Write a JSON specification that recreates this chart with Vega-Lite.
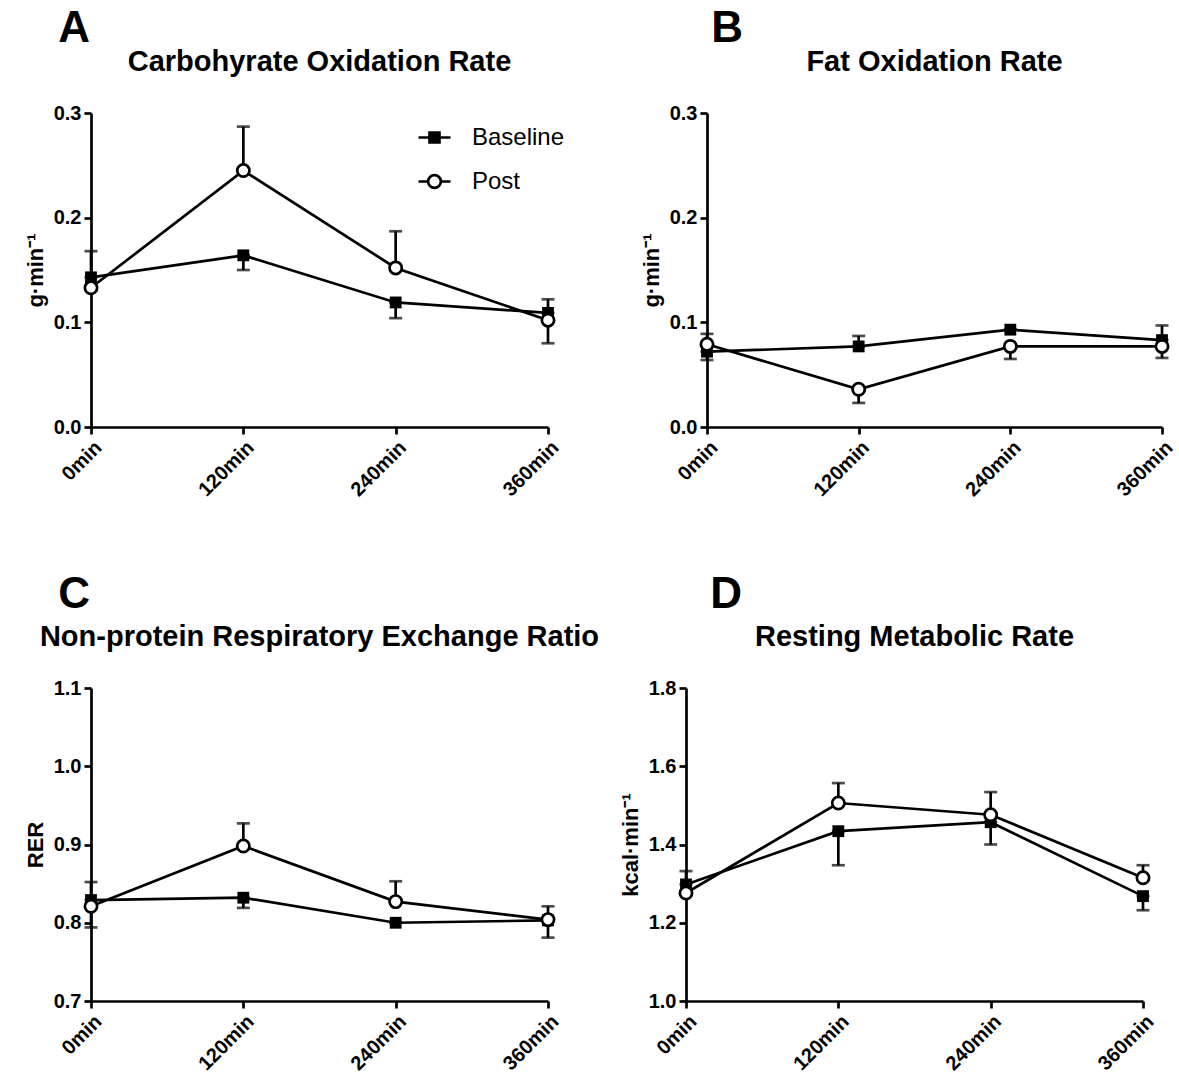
{
  "$schema": "https://vega.github.io/schema/vega-lite/v6.json",
  "background": "white",
  "padding": {"left": 24, "top": 7, "right": 5, "bottom": 5},
  "config": {
    "font": "Liberation Sans",
    "view": {"stroke": null},
    "title": {"font": "Liberation Sans", "fontWeight": "bold", "color": "black"},
    "axis": {"domainColor": "black", "domainWidth": 2.7, "tickColor": "black", "tickWidth": 2.7, "tickSize": 7, "labelColor": "black", "labelFont": "Liberation Sans", "labelFontWeight": "bold", "labelFontSize": 20, "titleColor": "black", "titleFont": "Liberation Sans", "titleFontSize": 22, "titleFontWeight": "bold", "grid": false, "labelPadding": 3, "titlePadding": 6},
    "axisX": {"labelAngle": -45, "labelFontSize": 20}
  },
  "data": {"values": [
    {"panel": "A", "series": "Baseline", "time": "0min", "value": 0.143, "lo": 0.143, "hi": 0.168},
    {"panel": "A", "series": "Baseline", "time": "120min", "value": 0.164, "lo": 0.150, "hi": 0.164},
    {"panel": "A", "series": "Baseline", "time": "240min", "value": 0.119, "lo": 0.104, "hi": 0.119},
    {"panel": "A", "series": "Baseline", "time": "360min", "value": 0.109, "lo": 0.109, "hi": 0.122},
    {"panel": "A", "series": "Post", "time": "0min", "value": 0.133, "lo": 0.133, "hi": 0.133},
    {"panel": "A", "series": "Post", "time": "120min", "value": 0.245, "lo": 0.245, "hi": 0.287},
    {"panel": "A", "series": "Post", "time": "240min", "value": 0.152, "lo": 0.152, "hi": 0.187},
    {"panel": "A", "series": "Post", "time": "360min", "value": 0.102, "lo": 0.080, "hi": 0.102},
    {"panel": "B", "series": "Baseline", "time": "0min", "value": 0.072, "lo": 0.064, "hi": 0.072},
    {"panel": "B", "series": "Baseline", "time": "120min", "value": 0.077, "lo": 0.077, "hi": 0.087},
    {"panel": "B", "series": "Baseline", "time": "240min", "value": 0.093, "lo": 0.093, "hi": 0.093},
    {"panel": "B", "series": "Baseline", "time": "360min", "value": 0.083, "lo": 0.083, "hi": 0.097},
    {"panel": "B", "series": "Post", "time": "0min", "value": 0.079, "lo": 0.079, "hi": 0.089},
    {"panel": "B", "series": "Post", "time": "120min", "value": 0.036, "lo": 0.023, "hi": 0.036},
    {"panel": "B", "series": "Post", "time": "240min", "value": 0.077, "lo": 0.065, "hi": 0.077},
    {"panel": "B", "series": "Post", "time": "360min", "value": 0.077, "lo": 0.066, "hi": 0.077},
    {"panel": "C", "series": "Baseline", "time": "0min", "value": 0.829, "lo": 0.829, "hi": 0.852},
    {"panel": "C", "series": "Baseline", "time": "120min", "value": 0.832, "lo": 0.819, "hi": 0.832},
    {"panel": "C", "series": "Baseline", "time": "240min", "value": 0.800, "lo": 0.800, "hi": 0.800},
    {"panel": "C", "series": "Baseline", "time": "360min", "value": 0.803, "lo": 0.803, "hi": 0.821},
    {"panel": "C", "series": "Post", "time": "0min", "value": 0.821, "lo": 0.794, "hi": 0.821},
    {"panel": "C", "series": "Post", "time": "120min", "value": 0.898, "lo": 0.898, "hi": 0.927},
    {"panel": "C", "series": "Post", "time": "240min", "value": 0.827, "lo": 0.827, "hi": 0.853},
    {"panel": "C", "series": "Post", "time": "360min", "value": 0.804, "lo": 0.781, "hi": 0.804},
    {"panel": "D", "series": "Baseline", "time": "0min", "value": 1.298, "lo": 1.298, "hi": 1.332},
    {"panel": "D", "series": "Baseline", "time": "120min", "value": 1.434, "lo": 1.347, "hi": 1.434},
    {"panel": "D", "series": "Baseline", "time": "240min", "value": 1.457, "lo": 1.400, "hi": 1.457},
    {"panel": "D", "series": "Baseline", "time": "360min", "value": 1.268, "lo": 1.232, "hi": 1.268},
    {"panel": "D", "series": "Post", "time": "0min", "value": 1.276, "lo": 1.276, "hi": 1.276},
    {"panel": "D", "series": "Post", "time": "120min", "value": 1.506, "lo": 1.506, "hi": 1.557},
    {"panel": "D", "series": "Post", "time": "240min", "value": 1.476, "lo": 1.476, "hi": 1.534},
    {"panel": "D", "series": "Post", "time": "360min", "value": 1.315, "lo": 1.315, "hi": 1.347}
  ]},
  "spacing": 73,
  "vconcat": [
    {
      "spacing": 77,
      "hconcat": [
        {
          "title": {"text": "A", "anchor": "start", "fontSize": 44, "dx": 34, "offset": -3},
          "vconcat": [{
            "width": 457, "height": 314,
            "title": {"text": "Carbohyrate Oxidation  Rate", "fontSize": 29, "anchor": "middle", "offset": 26},
            "transform": [{"filter": "datum.panel === 'A'"}],
            "encoding": {
              "x": {"field": "time", "type": "ordinal", "sort": ["0min", "120min", "240min", "360min"], "scale": {"type": "point", "padding": 0}, "axis": {"title": null}},
              "y": {"field": "value", "type": "quantitative", "scale": {"domain": [0, 0.3], "nice": false, "zero": false}, "axis": {"title": "g·min⁻¹", "values": [0, 0.1, 0.2, 0.3], "format": ".1f"}}
            },
            "layer": [
              {"mark": {"type": "rule", "color": "black", "strokeWidth": 2.7}, "encoding": {"y": {"field": "lo", "type": "quantitative"}, "y2": {"field": "hi"}}},
              {"mark": {"type": "tick", "color": "black", "thickness": 2.7, "size": 13}, "encoding": {"y": {"field": "lo", "type": "quantitative"}}},
              {"mark": {"type": "tick", "color": "black", "thickness": 2.7, "size": 13}, "encoding": {"y": {"field": "hi", "type": "quantitative"}}},
              {"mark": {"type": "line", "color": "black", "strokeWidth": 2.7}, "encoding": {"detail": {"field": "series"}}},
              {"transform": [{"filter": "datum.series === 'Baseline'"}], "mark": {"type": "square", "filled": true, "color": "black", "size": 140, "opacity": 1}},
              {"transform": [{"filter": "datum.series === 'Post'"}], "mark": {"type": "point", "shape": "circle", "filled": true, "fill": "white", "stroke": "black", "strokeWidth": 2.7, "size": 150, "opacity": 1}},
              {"transform": [{"filter": "false"}], "mark": {"type": "point", "filled": false, "strokeWidth": 2.7, "opacity": 1},
               "encoding": {
                 "shape": {"field": "series", "type": "nominal", "scale": {"domain": ["Baseline", "Post"], "range": ["M-1,0H1M-0.31,-0.31H0.31V0.31H-0.31Z", "M-1,0H-0.4M0.4,0H1M-0.4,0A0.4,0.4 0 1,1 0.4,0A0.4,0.4 0 1,1 -0.4,0Z"]},
                   "legend": {"orient": "none", "legendX": 326, "legendY": 7, "title": null, "padding": 0, "symbolSize": 1024, "symbolStrokeWidth": 2.7, "labelFontSize": 24, "labelFont": "Liberation Sans", "labelFontWeight": "normal", "labelColor": "black", "labelOffset": 20, "rowPadding": 14}},
                 "fill": {"field": "series", "type": "nominal", "scale": {"domain": ["Baseline", "Post"], "range": ["black", "white"]},
                   "legend": {"orient": "none", "legendX": 326, "legendY": 7, "title": null, "padding": 0, "symbolSize": 1024, "symbolStrokeWidth": 2.7, "labelFontSize": 24, "labelFont": "Liberation Sans", "labelFontWeight": "normal", "labelColor": "black", "labelOffset": 20, "rowPadding": 14}},
                 "stroke": {"field": "series", "type": "nominal", "scale": {"domain": ["Baseline", "Post"], "range": ["black", "black"]},
                   "legend": {"orient": "none", "legendX": 326, "legendY": 7, "title": null, "padding": 0, "symbolSize": 1024, "symbolStrokeWidth": 2.7, "labelFontSize": 24, "labelFont": "Liberation Sans", "labelFontWeight": "normal", "labelColor": "black", "labelOffset": 20, "rowPadding": 14}}
               }}
            ]
          }]
        },
        {
          "title": {"text": "B", "anchor": "start", "fontSize": 44, "dx": 71, "offset": -3},
          "vconcat": [{
            "width": 455, "height": 314,
            "title": {"text": "Fat Oxidation  Rate", "fontSize": 29, "anchor": "middle", "offset": 26},
            "transform": [{"filter": "datum.panel === 'B'"}],
            "encoding": {
              "x": {"field": "time", "type": "ordinal", "sort": ["0min", "120min", "240min", "360min"], "scale": {"type": "point", "padding": 0}, "axis": {"title": null}},
              "y": {"field": "value", "type": "quantitative", "scale": {"domain": [0, 0.3], "nice": false, "zero": false}, "axis": {"title": "g·min⁻¹", "values": [0, 0.1, 0.2, 0.3], "format": ".1f"}}
            },
            "layer": [
              {"mark": {"type": "rule", "color": "black", "strokeWidth": 2.7}, "encoding": {"y": {"field": "lo", "type": "quantitative"}, "y2": {"field": "hi"}}},
              {"mark": {"type": "tick", "color": "black", "thickness": 2.7, "size": 13}, "encoding": {"y": {"field": "lo", "type": "quantitative"}}},
              {"mark": {"type": "tick", "color": "black", "thickness": 2.7, "size": 13}, "encoding": {"y": {"field": "hi", "type": "quantitative"}}},
              {"mark": {"type": "line", "color": "black", "strokeWidth": 2.7}, "encoding": {"detail": {"field": "series"}}},
              {"transform": [{"filter": "datum.series === 'Baseline'"}], "mark": {"type": "square", "filled": true, "color": "black", "size": 140, "opacity": 1}},
              {"transform": [{"filter": "datum.series === 'Post'"}], "mark": {"type": "point", "shape": "circle", "filled": true, "fill": "white", "stroke": "black", "strokeWidth": 2.7, "size": 150, "opacity": 1}}
            ]
          }]
        }
      ]
    },
    {
      "spacing": 19,
      "hconcat": [
        {
          "title": {"text": "C", "anchor": "start", "fontSize": 44, "dx": 34, "offset": 6},
          "vconcat": [{
            "width": 457, "height": 313,
            "title": {"text": "Non-protein Respiratory Exchange Ratio", "fontSize": 29, "anchor": "middle", "offset": 26},
            "transform": [{"filter": "datum.panel === 'C'"}],
            "encoding": {
              "x": {"field": "time", "type": "ordinal", "sort": ["0min", "120min", "240min", "360min"], "scale": {"type": "point", "padding": 0}, "axis": {"title": null}},
              "y": {"field": "value", "type": "quantitative", "scale": {"domain": [0.7, 1.1], "nice": false, "zero": false}, "axis": {"title": "RER", "values": [0.7, 0.8, 0.9, 1.0, 1.1], "format": ".1f"}}
            },
            "layer": [
              {"mark": {"type": "rule", "color": "black", "strokeWidth": 2.7}, "encoding": {"y": {"field": "lo", "type": "quantitative"}, "y2": {"field": "hi"}}},
              {"mark": {"type": "tick", "color": "black", "thickness": 2.7, "size": 13}, "encoding": {"y": {"field": "lo", "type": "quantitative"}}},
              {"mark": {"type": "tick", "color": "black", "thickness": 2.7, "size": 13}, "encoding": {"y": {"field": "hi", "type": "quantitative"}}},
              {"mark": {"type": "line", "color": "black", "strokeWidth": 2.7}, "encoding": {"detail": {"field": "series"}}},
              {"transform": [{"filter": "datum.series === 'Baseline'"}], "mark": {"type": "square", "filled": true, "color": "black", "size": 140, "opacity": 1}},
              {"transform": [{"filter": "datum.series === 'Post'"}], "mark": {"type": "point", "shape": "circle", "filled": true, "fill": "white", "stroke": "black", "strokeWidth": 2.7, "size": 150, "opacity": 1}}
            ]
          }]
        },
        {
          "title": {"text": "D", "anchor": "start", "fontSize": 44, "dx": 91, "offset": 6},
          "vconcat": [{
            "width": 457, "height": 313,
            "title": {"text": "Resting Metabolic Rate", "fontSize": 29, "anchor": "middle", "offset": 26},
            "transform": [{"filter": "datum.panel === 'D'"}],
            "encoding": {
              "x": {"field": "time", "type": "ordinal", "sort": ["0min", "120min", "240min", "360min"], "scale": {"type": "point", "padding": 0}, "axis": {"title": null}},
              "y": {"field": "value", "type": "quantitative", "scale": {"domain": [1.0, 1.8], "nice": false, "zero": false}, "axis": {"title": "kcal·min⁻¹", "values": [1.0, 1.2, 1.4, 1.6, 1.8], "format": ".1f"}}
            },
            "layer": [
              {"mark": {"type": "rule", "color": "black", "strokeWidth": 2.7}, "encoding": {"y": {"field": "lo", "type": "quantitative"}, "y2": {"field": "hi"}}},
              {"mark": {"type": "tick", "color": "black", "thickness": 2.7, "size": 13}, "encoding": {"y": {"field": "lo", "type": "quantitative"}}},
              {"mark": {"type": "tick", "color": "black", "thickness": 2.7, "size": 13}, "encoding": {"y": {"field": "hi", "type": "quantitative"}}},
              {"mark": {"type": "line", "color": "black", "strokeWidth": 2.7}, "encoding": {"detail": {"field": "series"}}},
              {"transform": [{"filter": "datum.series === 'Baseline'"}], "mark": {"type": "square", "filled": true, "color": "black", "size": 140, "opacity": 1}},
              {"transform": [{"filter": "datum.series === 'Post'"}], "mark": {"type": "point", "shape": "circle", "filled": true, "fill": "white", "stroke": "black", "strokeWidth": 2.7, "size": 150, "opacity": 1}}
            ]
          }]
        }
      ]
    }
  ]
}
